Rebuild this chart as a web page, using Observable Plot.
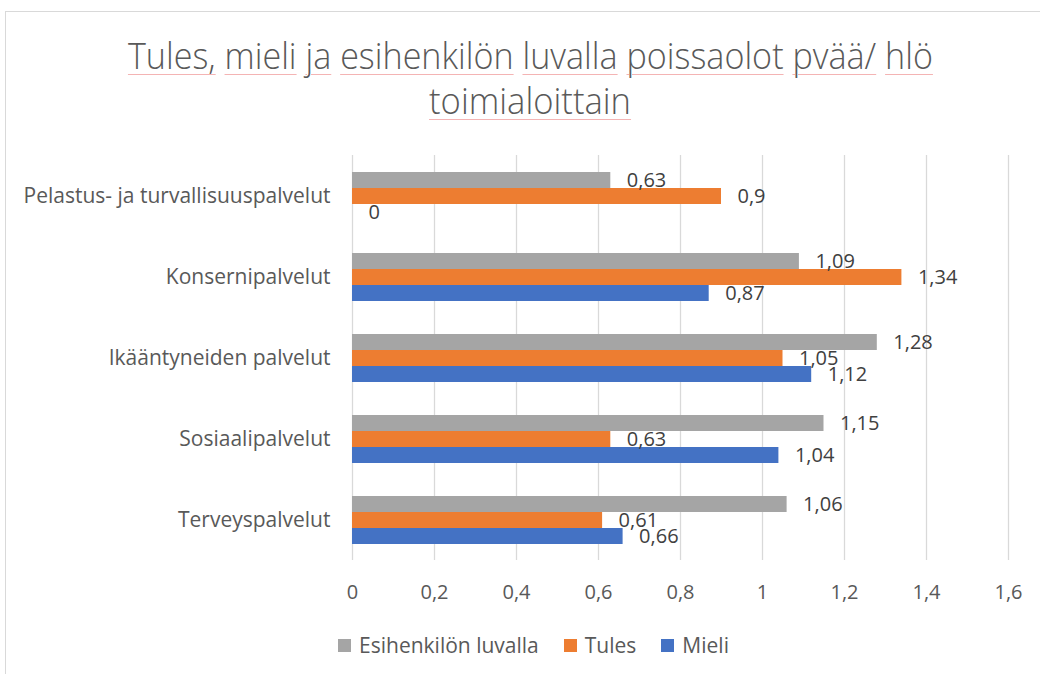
<!DOCTYPE html>
<html><head><meta charset="utf-8">
<script src="https://cdn.jsdelivr.net/npm/d3@7"></script>
<script src="https://cdn.jsdelivr.net/npm/@observablehq/plot@0.6"></script>
<style>
body{margin:0;background:#fff;width:1040px;height:674px;overflow:hidden;position:relative;font-family:"Open Sans",sans-serif;color:#595959}
#frame{position:absolute;left:5px;top:11px;width:1100px;height:700px;border:1px solid #d9d9d9;box-sizing:border-box}
.tline{position:absolute;left:0;width:1060px;text-align:center;font-weight:300;font-size:37px;line-height:37px;white-space:nowrap}
.tline span.in{display:inline-block;transform-origin:center}
.w{text-decoration:underline;text-decoration-color:#f4b4b4;text-decoration-thickness:1px;text-underline-offset:5px}
#chart{position:absolute;left:0;top:140px}
#legend{position:absolute;left:0;width:1067px;top:631px;display:flex;justify-content:center;align-items:center;font-size:21px;gap:25px}
#legend .it{display:flex;align-items:center;gap:8px}
#legend .sw{width:13px;height:13px;display:inline-block}
</style></head>
<body>
<div id="frame"></div>
<div class="tline" id="t1" style="top:36px"><span class="in"></span></div>
<div class="tline" id="t2" style="top:81px"><span class="in"></span></div>
<div id="chart"></div>
<div id="legend"></div>
<script>
const titleLines = ["Tules, mieli ja esihenkilön luvalla poissaolot pvää/ hlö", "toimialoittain"];
const categories = ["Pelastus- ja turvallisuuspalvelut","Konsernipalvelut","Ikääntyneiden palvelut","Sosiaalipalvelut","Terveyspalvelut"];
const series = ["Esihenkilön luvalla","Tules","Mieli"];
const colors = ["#A5A5A5","#ED7D31","#4472C4"];
const esihenkilo = [0.63,1.09,1.28,1.15,1.06];
const tules = [0.9,1.34,1.05,0.63,0.61];
const mieli = [0,0.87,1.12,1.04,0.66];
const xTicks = [0,0.2,0.4,0.6,0.8,1,1.2,1.4,1.6];

const fmt = v => String(v).replace(".", ",");

// title
[["t1",titleLines[0],805],["t2",titleLines[1],202]].forEach(([id,txt,target])=>{
  const span = document.querySelector("#"+id+" .in");
  span.innerHTML = txt.split(" ").map(w=>`<span class="w">${w}</span>`).join(" ");
  const w = span.getBoundingClientRect().width;
  span.style.transform = `scaleX(${target/w})`;
});

const data = [];
const vals = [esihenkilo, tules, mieli];
categories.forEach((c,i)=>series.forEach((s,j)=>data.push({category:c, series:s, value:vals[j][i]})));

const chart = Plot.plot({
  width: 1040, height: 470,
  marginLeft: 352, marginRight: 32, marginTop: 15, marginBottom: 50,
  style: {fontFamily: "'Open Sans', sans-serif", fontSize: "21px", color: "#595959", background: "transparent"},
  x: {domain: [0, 1.6], axis: null},
  y: {domain: series, axis: null, paddingInner: 0, paddingOuter: 0.93},
  fy: {domain: categories, padding: 0, axis: "left", tickSize: 0, tickPadding: 22, label: null},
  color: {domain: series, range: colors},
  marks: [
    Plot.gridX(xTicks, {stroke: "#d9d9d9", strokeOpacity: 1, strokeWidth: 1.3}),
    Plot.barX(data, {x: "value", y: "series", fy: "category", fill: "series"}),
    Plot.text(data, {x: "value", y: "series", fy: "category", text: d => fmt(d.value), dx: 16, textAnchor: "start", fontSize: 20, fill: "#404040"}),
    Plot.axisX(xTicks, {anchor: "bottom", tickSize: 0, tickPadding: 24, tickFormat: fmt, fontSize: 20, label: null})
  ]
});
document.getElementById("chart").appendChild(chart);

const legend = document.getElementById("legend");
series.forEach((s,i)=>{
  const it = document.createElement("div"); it.className="it";
  it.innerHTML = `<span class="sw" style="background:${colors[i]}"></span><span>${s}</span>`;
  legend.appendChild(it);
});
</script>
</body></html>
